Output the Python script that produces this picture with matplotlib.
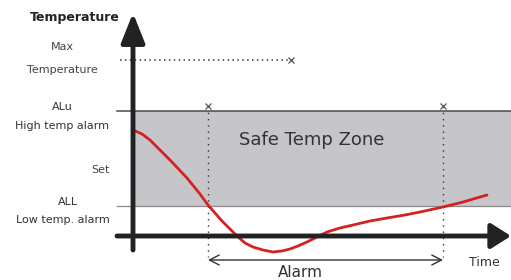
"""Schematic: temperature alarm zones over time."""

import matplotlib
matplotlib.use("Agg")
import matplotlib.pyplot as plt

# --- chart values (image-pixel units, y grows downward) ---
curve_t = [133, 142, 150, 160, 170, 187, 200, 208, 215, 222, 230, 237, 245, 253, 263,
           273, 282, 290, 298, 307, 317, 327, 340, 353, 370, 387, 405, 420, 443, 463, 487]
curve_temp = [130, 134, 140, 150, 160, 178, 194, 205, 213, 221, 229, 236, 243, 247, 250,
              252, 251, 249, 246, 242, 237, 232, 228, 225, 221, 218, 215, 212, 207, 202, 195]

LEVEL_MAX = 60       # Max temperature
LEVEL_ALU = 111      # high temp alarm
LEVEL_ALL = 206      # low temp alarm
LEVEL_ZERO = 236     # time axis
T_AXIS = 133         # temperature axis
ALARM_START, ALARM_END = 208, 443
MAX_END = 291
# ------------------------------------------------------------------------------

DARK = "#222222"

fig = plt.figure(figsize=(5.11, 2.80), dpi=100)
ax = fig.add_axes([0, 0, 1, 1])
ax.set_xlim(0, 511)
ax.set_ylim(280, 0)
ax.axis("off")

# safe zone band
ax.fill_between([T_AXIS, 511], LEVEL_ALU, LEVEL_ALL, color="#c6c6ca", lw=0, zorder=1)
ax.plot([117, 511], [LEVEL_ALU, LEVEL_ALU], color="#4a4a4a", lw=1.1, zorder=2)
ax.plot([117, 511], [LEVEL_ALL, LEVEL_ALL], color="#8a8a8a", lw=0.9, zorder=2)

# max temperature dotted line
ax.plot([120, MAX_END], [LEVEL_MAX, LEVEL_MAX], color="#333333", lw=1.1,
        linestyle=(0, (1, 2.2)), zorder=2)
ax.plot([MAX_END], [LEVEL_MAX], marker="x", color="#555555", ms=4, mew=0.9, zorder=2)

# alarm markers
for xa in (ALARM_START, ALARM_END):
    ax.plot([xa, xa], [106, 257], color="#333333", lw=1.0,
            linestyle=(0, (1, 3.5)), zorder=2)
    ax.plot([xa], [106], marker="x", color="#555555", ms=4, mew=0.9, zorder=2)
ax.annotate("", xy=(ALARM_START, 260), xytext=(ALARM_END, 260),
            arrowprops=dict(arrowstyle="<->,head_length=0.35,head_width=0.18",
                            color="#333333", lw=1.0, mutation_scale=20,
                            shrinkA=0, shrinkB=0), zorder=3)

# axes with arrows
ax.annotate("", xy=(T_AXIS, 13), xytext=(T_AXIS, 250),
            arrowprops=dict(arrowstyle="-|>,head_length=0.9,head_width=0.36",
                            color=DARK, lw=3.5, mutation_scale=20,
                            shrinkA=0, shrinkB=0), zorder=5)
ax.annotate("", xy=(511, LEVEL_ZERO), xytext=(117, LEVEL_ZERO),
            arrowprops=dict(arrowstyle="-|>,head_length=0.6,head_width=0.38",
                            color=DARK, lw=3.5, mutation_scale=20,
                            shrinkA=0, shrinkB=0), zorder=5)

# temperature curve
ax.plot(curve_t, curve_temp, color="#d42222", lw=2.0, solid_capstyle="round",
        solid_joinstyle="round", zorder=4)

# labels
ax.text(75, 18, "Temperature", ha="center", va="center", fontsize=9,
        fontweight="bold", color=DARK)
ax.text(62, 47, "Max", ha="center", va="center", fontsize=8, color="#444444")
ax.text(62, 70, "Temperature", ha="center", va="center", fontsize=8, color="#444444")
ax.text(62, 107, "ALu", ha="center", va="center", fontsize=8, color="#333333")
ax.text(62, 126, "High temp alarm", ha="center", va="center", fontsize=8, color="#333333")
ax.text(110, 170, "Set", ha="right", va="center", fontsize=8, color="#444444")
ax.text(68, 202, "ALL", ha="center", va="center", fontsize=8, color="#333333")
ax.text(63, 220, "Low temp. alarm", ha="center", va="center", fontsize=8, color="#333333")
ax.text(312, 140, "Safe Temp Zone", ha="center", va="center", fontsize=13,
        color="#333333")
ax.text(300, 280, "Alarm", ha="center", va="bottom", fontsize=11, color="#333333")
ax.text(484, 262, "Time", ha="center", va="center", fontsize=9, color="#333333")

fig.savefig("out.png", dpi=100)
